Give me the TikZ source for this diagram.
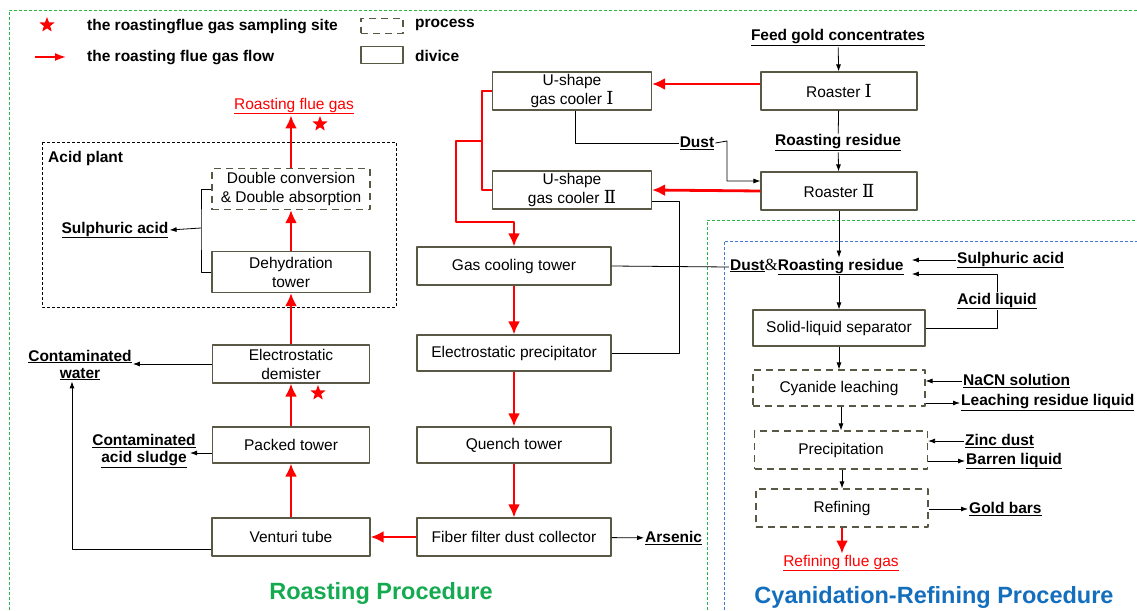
\documentclass[tikz,border=0pt]{standalone}
\usepackage{fontspec}
\setmainfont{Liberation Sans}
\newfontfamily\numfont{DejaVu Serif}
\newfontfamily\ampfont{Liberation Serif}
\usetikzlibrary{positioning, arrows.meta, shapes}
\definecolor{boxline}{RGB}{88,88,68}
\definecolor{regiongreen}{RGB}{40,180,70}
\definecolor{regionblue}{RGB}{70,120,210}
\definecolor{titlegreen}{RGB}{20,170,80}
\definecolor{titleblue}{RGB}{20,110,190}
\tikzstyle{device} = [draw=boxline, line width=1.1pt, rectangle, align=center, font=\fontsize{15.5}{19}\selectfont, minimum height=38pt, inner sep=2pt]
\tikzstyle{process} = [device, dash pattern=on 7pt off 5pt]
\tikzstyle{mattext} = [font=\fontsize{15.5}{17}\selectfont\bfseries, align=center, inner sep=1pt]
\tikzstyle{flow} = [draw=red, line width=2.8pt, -{Latex[length=13pt,width=12pt]}]
\tikzstyle{redline} = [draw=red, line width=2.8pt]
\tikzstyle{link} = [draw=black, line width=0.8pt, -{Latex[length=7pt,width=5pt]}]
\tikzstyle{wire} = [draw=black, line width=0.8pt]
\tikzstyle{sample} = [star, star points=5, star point ratio=2.4, fill=red, inner sep=0pt, minimum size=16pt]
\newcommand{\rnum}[1]{{\numfont\fontsize{18}{18}\selectfont #1}}

\begin{document}
\begin{tikzpicture}[x=1pt, y=-1pt, line join=round]
\useasboundingbox (0,0) rectangle (1137,610);

% regions
\draw[regiongreen, line width=0.8pt, dash pattern=on 3pt off 2pt] (9,610) |- (1137,10);
\draw[regiongreen, line width=0.8pt, dash pattern=on 3pt off 2pt] (707,610) |- (1137,220);
\draw[regionblue, line width=0.8pt, dash pattern=on 3pt off 2pt] (724,610) |- (1137,241);
\draw[black, line width=0.8pt, dash pattern=on 3pt off 2pt] (42,142) rectangle (396,307);
\node[mattext, anchor=west] (acidplant) at (47,158) {Acid plant};

% legend
\node[sample] (legstar) at (47,25) {};
\node[mattext, anchor=west] (legsite) at (86,27) {the roastingflue gas sampling site};
\coordinate (legtail) at (35,57);
\coordinate (leghead) at (66,57);
\draw[flow, line width=1.6pt, -{Latex[length=11pt,width=8pt]}] (legtail) -- (leghead);
\node[mattext, anchor=west] (legflow) at (86,58) {the roasting flue gas flow};
\node[process, minimum width=42pt, minimum height=15pt] (legproc) at (382,26) {};
\node[mattext, anchor=west] (legproctext) at (414,25) {process};
\node[device, minimum width=42pt, minimum height=17pt] (legdev) at (382,55) {};
\node[mattext, anchor=west] (legdevtext) at (414,56) {divice};

% roasting
\node[mattext] (feed) at (838,38) {\underline{Feed gold concentrates}};
\node[device, minimum width=156pt] (roaster1) at (839,91) {Roaster \rnum{Ⅰ}};
\node[mattext] (residue) at (838,143) {\underline{Roasting residue}};
\node[device, minimum width=156pt] (roaster2) at (839,191) {Roaster \rnum{Ⅱ}};
\node[device, minimum width=159pt] (cooler1) at (572,91) {U-shape\\gas cooler \rnum{Ⅰ}};
\node[device, minimum width=159pt] (cooler2) at (572,190) {U-shape\\gas cooler \rnum{Ⅱ}};
\node[mattext] (dust) at (697,143) {\underline{Dust}};
\node[device, minimum width=194pt] (coolingtower) at (514,266) {Gas cooling tower};
\node[device, minimum width=194pt, minimum height=36pt] (precip) at (514,353) {Electrostatic precipitator};
\node[device, minimum width=194pt, minimum height=36pt] (quench) at (514,445) {Quench tower};
\node[device, minimum width=194pt] (fiber) at (514,537) {Fiber filter dust collector};
\node[mattext, anchor=west] (arsenic) at (644,538) {\underline{Arsenic}};

\node[device, minimum width=158pt] (venturi) at (291,537) {Venturi tube};
\node[device, minimum width=157pt, minimum height=36pt] (packed) at (291,445) {Packed tower};
\node[device, minimum width=157pt] (demister) at (291,364) {Electrostatic\\demister};
\node[device, minimum width=158pt, minimum height=41pt] (dehyd) at (291,272) {Dehydration\\tower};
\node[process, minimum width=158pt, minimum height=41pt] (doubleconv) at (291,189) {Double conversion\\\& Double absorption};
\node[font=\fontsize{15.5}{17}\selectfont, text=red, inner sep=1pt] (fluegas) at (294,106) {\underline{Roasting flue gas}};
\node[sample] (star1) at (320,124) {};
\node[sample] (star2) at (318,393) {};
\node[mattext] (sulph1) at (115,230) {\underline{Sulphuric acid}};
\node[mattext] (water) at (80,365) {\underline{Contaminated}\\\underline{water}};
\node[mattext] (sludge) at (144,451) {\underline{Contaminated}\\\underline{acid sludge}};
\node[font=\fontsize{23.5}{24}\selectfont\bfseries, text=titlegreen] (roasttitle) at (381,593) {Roasting Procedure};

% cyanidation
\node[mattext, anchor=west] (dustres) at (729,267) {\underline{Dust}{\ampfont\mdseries\fontsize{17}{17}\selectfont\&}\underline{Roasting residue}};
\node[mattext, anchor=west] (sulph2) at (956,260) {\underline{Sulphuric acid}};
\node[mattext] (acidliq) at (997,301) {\underline{Acid liquid}};
\node[device, minimum width=172pt, minimum height=36pt] (separator) at (839,328) {Solid-liquid separator};
\node[process, minimum width=172pt, minimum height=36pt] (cyanide) at (839,388) {Cyanide leaching};
\node[mattext, anchor=west] (nacn) at (962,381) {\underline{NaCN solution}};
\node[mattext, anchor=west] (leachres) at (960,403) {\underline{Leaching residue liquid}};
\node[process, minimum width=173pt] (precipitation) at (841,450) {Precipitation};
\node[mattext, anchor=west] (zinc) at (964,441) {\underline{Zinc dust}};
\node[mattext, anchor=west] (barren) at (965,461) {\underline{Barren liquid}};
\node[process, minimum width=172pt] (refining) at (842,508) {Refining};
\node[mattext, anchor=west] (goldbars) at (968,509) {\underline{Gold bars}};
\node[font=\fontsize{15.5}{17}\selectfont, text=red, inner sep=1pt] (refgas) at (841,563) {\underline{Refining flue gas}};
\node[font=\fontsize{23.5}{24}\selectfont\bfseries, text=titleblue] (cyantitle) at (934,597) {Cyanidation-Refining Procedure};

% flue gas flow
\coordinate (gasjoin) at (482,141);
\coordinate (gasdrop) at (456,222);
\draw[flow] ([yshift=7pt]roaster1.west) -- ([yshift=7pt]cooler1.east);
\draw[flow] (roaster2.west) -- (cooler2.east);
\draw[redline] (cooler1.west) -| (gasjoin) |- (cooler2.west);
\draw[flow] (gasjoin) -| (gasdrop) -| (coolingtower.north);
\draw[flow] (coolingtower) -- (precip);
\draw[flow] (precip) -- (quench);
\draw[flow] (quench) -- (fiber);
\draw[flow] (fiber) -- (venturi);
\draw[flow] (venturi) -- (packed);
\draw[flow] (packed) -- (demister);
\draw[flow] (demister) -- (dehyd);
\draw[flow] (dehyd) -- (doubleconv);
\draw[flow] (doubleconv.north) -- (doubleconv.north |- fluegas.south);
\draw[flow] (refining.south) -- (refining.south |- refgas.north);

% other streams
\coordinate (dustbend) at (727,141);
\coordinate (acidtap) at (201,228);
\coordinate (sludgetip) at (190,453);
\draw[link] (feed) -- (roaster1);
\draw[wire] (roaster1) -- (residue);
\draw[link] (residue) -- (roaster2);
\draw[wire] ([xshift=3pt]cooler1.south) |- (dust.west);
\draw[link] (dust.east) -- (dustbend) |- ([yshift=10pt]roaster2.west);
\draw[wire] ([yshift=-11pt]cooler2.east) -| ([xshift=68pt]precip.east) -- (precip.east);
\draw[wire] (coolingtower.east) -- (dustres.west);
\draw[link] (fiber) -- (arsenic);
\draw[wire] (doubleconv.west) -| (acidtap) |- (dehyd.west);
\draw[link] (acidtap) -- (sulph1.east);
\draw[link] (demister.west) -- (demister.west -| water.east);
\draw[link] ([yshift=-12pt]venturi.west) -| ([xshift=-8pt]water.south);
\draw[link] ([yshift=-8pt]packed.west) -- (sludgetip);

\draw[link] (roaster2.south) -- (roaster2.south |- dustres.north);
\draw[link, shorten >=7pt] (sulph2.west) -- (sulph2.west -| dustres.east);
\draw[link, shorten >=7pt] (acidliq.north) |- ([yshift=-7pt]dustres.east);
\draw[wire] (separator.east) -| (acidliq.south);
\draw[link] (dustres.south -| separator.north) -- (separator.north);
\draw[link] (separator) -- (cyanide);
\draw[link] (nacn.west) -- (nacn.west -| cyanide.east);
\draw[link] (cyanide.east |- leachres.west) -- (leachres.west);
\draw[link] (cyanide.south -| precipitation.north) -- (precipitation.north);
\draw[link] (zinc.west) -- (zinc.west -| precipitation.east);
\draw[link] (precipitation.east |- barren.west) -- (barren.west);
\draw[link] (precipitation.south -| refining.north) -- (refining.north);
\draw[link] (refining.east |- goldbars.west) -- (goldbars.west);
\end{tikzpicture}
\end{document}
